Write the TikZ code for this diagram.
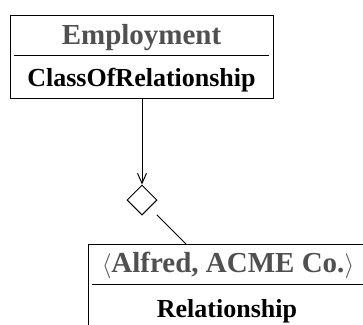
\documentclass[tikz,border=0pt]{standalone}
\usepackage{fontspec}
\setmainfont{Liberation Serif}
\usetikzlibrary{shapes.geometric,arrows.meta}
\definecolor{titlegray}{RGB}{80,80,80}
\tikzset{
  frame/.style={line width=1pt},
  sep/.style={line width=1pt},
  titletext/.style={anchor=base, inner sep=0pt, text=titlegray, font=\fontsize{29}{29}\selectfont\bfseries},
  kindtext/.style={anchor=base, inner sep=0pt, text=black, font=\fontsize{26}{26}\selectfont\bfseries},
  link/.style={line width=1pt},
  aggr/.style={draw, diamond, line width=1pt, minimum width=30pt, minimum height=30pt, inner sep=0pt, fill=white}
}
\begin{document}
\begin{tikzpicture}[x=1pt, y=-1pt]
  \useasboundingbox (0,0) rectangle (363,324);
  \clip (0,0) rectangle (363,324);

  % class box: Employment / ClassOfRelationship
  \draw[frame] (10,15) rectangle (273,98);
  \draw[sep] (14,55) -- (269,55);
  \node[titletext] (emp) at (141.5,44) {Employment};
  \node[kindtext] (cls) at (141.5,86) {ClassOfRelationship};
  \coordinate (empbottom) at (142,98);

  % aggregation diamond
  \node[aggr] (dia) at (142,200) {};

  % instance box: <Alfred, ACME Co.> / Relationship (runs past the page edge)
  \draw[frame] (88,244) rectangle (368,340);
  \draw[sep] (92,284.5) -- (364,284.5);
  \node[titletext] (inst) at (228,272) {$\langle$Alfred, ACME Co.$\rangle$};
  \node[kindtext] (rel) at (227,317) {Relationship};
  \coordinate (reltop) at (186,244);

  % connectors
  \draw[link, -{Straight Barb[length=10pt,width=9pt]}] (empbottom) -- (dia.north);
  \draw[link, shorten <=10pt] (dia) -- (reltop);
\end{tikzpicture}
\end{document}
